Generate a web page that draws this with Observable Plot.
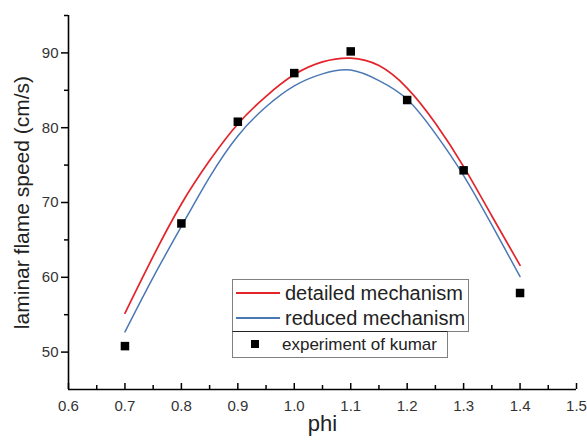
<!DOCTYPE html>
<html><head><meta charset="utf-8">
<script src="https://cdn.jsdelivr.net/npm/d3@7"></script>
<script src="https://cdn.jsdelivr.net/npm/@observablehq/plot@0.6"></script>
<style>
body{margin:0;background:#fff;font-family:"Liberation Sans",Arial,sans-serif}
#wrap{position:relative;width:587px;height:441px;overflow:hidden}
.box{position:absolute;border:1px solid #808080;background:#fff;box-sizing:border-box}
.row{position:absolute;left:0;height:26px;line-height:26px;white-space:nowrap;color:#222}
.sample{position:absolute;height:2px}
.sq{position:absolute;width:8px;height:8px;background:#000}
</style></head>
<body><div id="wrap"></div>
<script>
const phi = [0.7,0.75,0.8,0.85,0.9,0.95,1.0,1.05,1.1,1.15,1.2,1.25,1.3,1.35,1.4];
const detailed = [55.2,62.8,69.8,75.6,80.5,84.2,87.1,88.8,89.3,88.3,85.3,80.6,74.8,68.2,61.6];
const reduced  = [52.7,60.0,66.8,73.4,78.9,82.8,85.6,87.2,87.7,86.3,83.8,79.2,73.6,67.0,60.1];
const expPhi   = [0.7,0.8,0.9,1.0,1.1,1.2,1.3,1.4];
const expSpeed = [50.8,67.2,80.8,87.3,90.2,83.7,74.3,57.9];
const xMajor = [0.6,0.7,0.8,0.9,1.0,1.1,1.2,1.3,1.4,1.5];
const xMinor = [0.65,0.75,0.85,0.95,1.05,1.15,1.25,1.35,1.45];
const yMajor = [50,60,70,80,90];
const yMinor = [55,65,75,85,95];
const seriesNames = ["detailed mechanism","reduced mechanism","experiment of kumar"];
const xLabel = "phi";
const yLabel = "laminar flame speed (cm/s)";

const W = 587, H = 441, ML = 68, MR = 11, MT = 15, MB = 52;
const FW = W - ML - MR, FH = H - MT - MB;
const red = "#e3242b", blue = "#4a78b4";
const detRows = phi.map((p,i)=>({phi:p, v:detailed[i]}));
const redRows = phi.map((p,i)=>({phi:p, v:reduced[i]}));
const expRows = expPhi.map((p,i)=>({phi:p, v:expSpeed[i]}));

const chart = Plot.plot({
  width: W, height: H,
  marginLeft: ML, marginRight: MR, marginTop: MT, marginBottom: MB,
  style: {fontFamily: '"Liberation Sans", Arial, sans-serif', background: "#fff"},
  x: {domain: [0.6, 1.5]},
  y: {domain: [45, 95]},
  marks: [
    Plot.axisX(xMajor, {tickSize: 0, tickPadding: 11, fontSize: 15, fill: "#333", label: null, tickFormat: d3.format(".1f")}),
    Plot.axisY(yMajor, {tickSize: 0, tickPadding: 10, fontSize: 15, fill: "#333", label: null}),
    Plot.tickX(xMajor, {x: d => d, insetTop: FH - 6, stroke: "#000", strokeWidth: 1.5}),
    Plot.tickX(xMinor, {x: d => d, insetTop: FH - 4, stroke: "#000", strokeWidth: 1.5}),
    Plot.tickY(yMajor, {y: d => d, insetLeft: -7, insetRight: FW, stroke: "#000", strokeWidth: 1.5}),
    Plot.tickY(yMinor, {y: d => d, insetLeft: -4, insetRight: FW, stroke: "#000", strokeWidth: 1.5}),
    Plot.ruleY([45], {stroke: "#000", strokeWidth: 1.6}),
    Plot.ruleX([0.6], {stroke: "#000", strokeWidth: 1.6}),
    Plot.line(detRows, {x: "phi", y: "v", stroke: red, strokeWidth: 1.7, curve: "natural"}),
    Plot.line(redRows, {x: "phi", y: "v", stroke: blue, strokeWidth: 1.5, curve: "natural"}),
    Plot.dot(expRows, {x: "phi", y: "v", symbol: "square", r: 4.8, fill: "#000", stroke: null}),
    Plot.text([xLabel], {frameAnchor: "bottom", dy: 41, fontSize: 22, fill: "#222"}),
    Plot.text([yLabel], {frameAnchor: "left", textAnchor: "middle", dx: -46, rotate: -90, fontSize: 21, fill: "#222"})
  ]
});
const wrap = document.getElementById("wrap");
wrap.appendChild(chart);

// legend overlay
const box1 = document.createElement("div");
box1.className = "box";
Object.assign(box1.style, {left: "232px", top: "279px", width: "237px", height: "53px"});
const box2 = document.createElement("div");
box2.className = "box";
Object.assign(box2.style, {left: "232px", top: "331px", width: "216px", height: "27px", borderTop: "1.5px solid #222"});
wrap.appendChild(box1); wrap.appendChild(box2);
[[seriesNames[0], red, 0], [seriesNames[1], blue, 25]].forEach(([t, c, top]) => {
  const row = document.createElement("div");
  row.className = "row";
  row.style.top = top + "px";
  row.style.fontSize = "20px";
  row.style.left = "52px";
  row.textContent = t;
  box1.appendChild(row);
  const s = document.createElement("div");
  s.className = "sample";
  Object.assign(s.style, {left: "3px", width: "44px", top: (top + 12) + "px", background: c});
  box1.appendChild(s);
});
const r3 = document.createElement("div");
r3.className = "row";
Object.assign(r3.style, {left: "49px", top: "0px", fontSize: "17px", lineHeight: "25px"});
r3.textContent = seriesNames[2];
box2.appendChild(r3);
const sq = document.createElement("div");
sq.className = "sq";
Object.assign(sq.style, {left: "18px", top: "8px"});
box2.appendChild(sq);
</script></body></html>
